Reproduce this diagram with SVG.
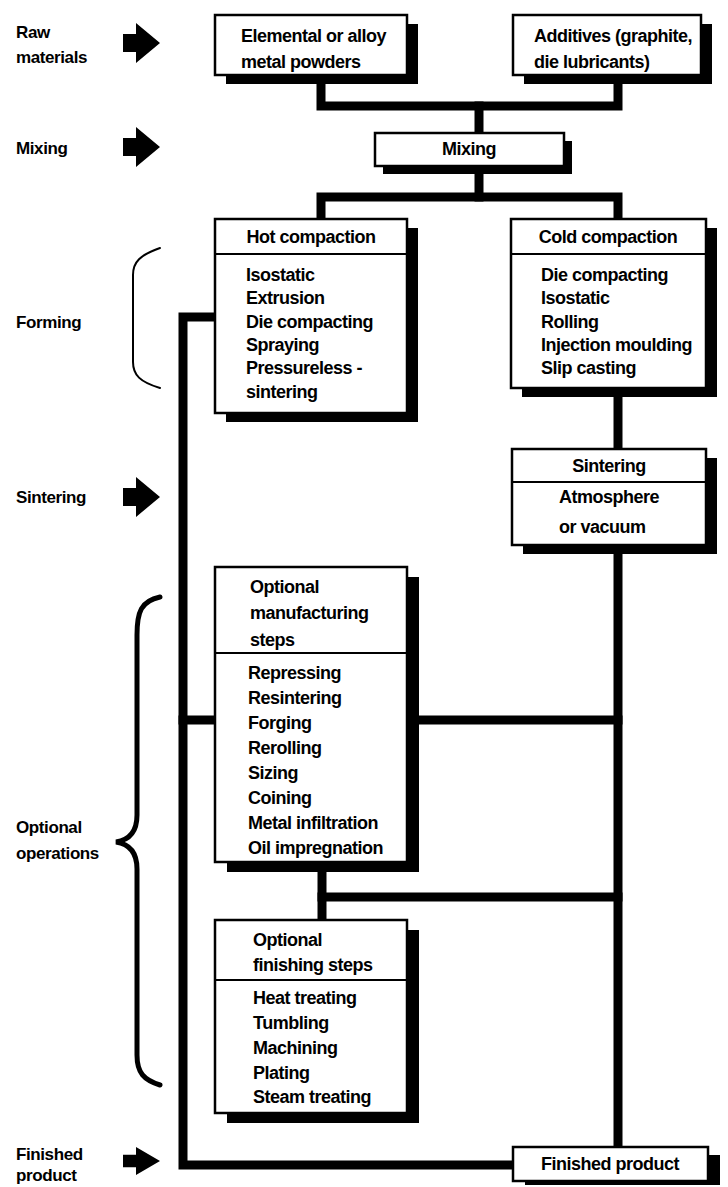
<svg xmlns="http://www.w3.org/2000/svg" width="728" height="1187" viewBox="0 0 728 1187">
<style>
text { font-family: "Liberation Sans", Arial, sans-serif; font-weight: bold; font-size: 18px; letter-spacing: -0.5px; fill: #000; }
.lbl { font-size: 17px; letter-spacing: -0.4px; }
.c { text-anchor: middle; }
.box { fill: #fff; stroke: #000; stroke-width: 2.5; }
.sh { fill: #000; }
.dv { stroke: #000; stroke-width: 2; }
.con { fill: none; stroke: #000; stroke-width: 9; stroke-linecap: square; stroke-linejoin: miter; }
.br { fill: none; stroke: #000; stroke-linecap: round; }
</style>
<defs>
<path id="arrow" d="M0,-9 H13 V-20 L37,0 L13,20 V9 H0 Z" fill="#000"/>
</defs>
<rect width="728" height="1187" fill="#fff"/>

<g id="stage-labels">
<text class="lbl" x="16" y="38">Raw</text>
<text class="lbl" x="16" y="63">materials</text>
<text class="lbl" x="16" y="154">Mixing</text>
<text class="lbl" x="16" y="328">Forming</text>
<text class="lbl" x="16" y="503">Sintering</text>
<text class="lbl" x="16" y="833">Optional</text>
<text class="lbl" x="16" y="859">operations</text>
<text class="lbl" x="16" y="1160">Finished</text>
<text class="lbl" x="16" y="1181">product</text>
<use href="#arrow" transform="translate(123,43)"/>
<use href="#arrow" transform="translate(123,147)"/>
<use href="#arrow" transform="translate(123,497)"/>
<use href="#arrow" transform="translate(123,1161) scale(1,0.7)"/>
<path class="br" stroke-width="2" d="M160,248 C140,255 133,262 133,275 L133,362 C133,375 140,382 160,388"/>
<path class="br" stroke-width="5" d="M160,597 C141,601 137,612 137,635 L137,815 C137,832 129,840 116,842 C129,844 137,852 137,869 L137,1055 C137,1073 144,1080 160,1085"/>
</g>

<g id="connectors">
<path class="con" d="M321,75 V106 H618 V75"/>
<path class="con" d="M479,106 V133"/>
<path class="con" d="M479,166 V197"/>
<path class="con" d="M321,219 V197 H618 V219"/>
<path class="con" d="M618,388 V449"/>
<path class="con" d="M618,545 V1147"/>
<path class="con" d="M215,317 H183 V1165 H513"/>
<path class="con" d="M183,720 H618"/>
<path class="con" d="M322,862 V920"/>
<path class="con" d="M322,897 H618"/>
</g>

<g id="elemental">
<rect class="sh" x="226" y="24" width="192" height="60"/>
<rect class="box" x="215" y="15" width="192" height="60"/>
<text x="241" y="42">Elemental or alloy</text>
<text x="241" y="68">metal powders</text>
</g>

<g id="additives">
<rect class="sh" x="524" y="24" width="188" height="60"/>
<rect class="box" x="513" y="15" width="188" height="60"/>
<text x="534" y="42">Additives (graphite,</text>
<text x="534" y="68">die lubricants)</text>
</g>

<g id="mixing">
<rect class="sh" x="383" y="141" width="189" height="33"/>
<rect class="box" x="375" y="133" width="189" height="33"/>
<text class="c" x="469" y="155">Mixing</text>
</g>

<g id="hot-compaction">
<rect class="sh" x="226" y="228" width="192" height="194"/>
<rect class="box" x="215" y="219" width="192" height="194"/>
<line class="dv" x1="215" y1="254" x2="407" y2="254"/>
<text class="c" x="311" y="243">Hot compaction</text>
<text x="246" y="281">Isostatic</text>
<text x="246" y="304">Extrusion</text>
<text x="246" y="328">Die compacting</text>
<text x="246" y="351">Spraying</text>
<text x="246" y="374">Pressureless -</text>
<text x="246" y="398">sintering</text>
</g>

<g id="cold-compaction">
<rect class="sh" x="522" y="228" width="195" height="169"/>
<rect class="box" x="511" y="219" width="195" height="169"/>
<line class="dv" x1="511" y1="254" x2="706" y2="254"/>
<text class="c" x="608" y="243">Cold compaction</text>
<text x="541" y="281">Die compacting</text>
<text x="541" y="304">Isostatic</text>
<text x="541" y="328">Rolling</text>
<text x="541" y="351">Injection moulding</text>
<text x="541" y="374">Slip casting</text>
</g>

<g id="sintering">
<rect class="sh" x="523" y="458" width="194" height="96"/>
<rect class="box" x="512" y="449" width="194" height="96"/>
<line class="dv" x1="512" y1="482" x2="706" y2="482"/>
<text class="c" x="609" y="472">Sintering</text>
<text x="559" y="503">Atmosphere</text>
<text x="559" y="533">or vacuum</text>
</g>

<g id="optional-manufacturing">
<rect class="sh" x="227" y="577" width="192" height="295"/>
<rect class="box" x="215" y="567" width="192" height="295"/>
<line class="dv" x1="215" y1="653" x2="407" y2="653"/>
<text x="250" y="593">Optional</text>
<text x="250" y="619">manufacturing</text>
<text x="250" y="646">steps</text>
<text x="248" y="679">Repressing</text>
<text x="248" y="704">Resintering</text>
<text x="248" y="729">Forging</text>
<text x="248" y="754">Rerolling</text>
<text x="248" y="779">Sizing</text>
<text x="248" y="804">Coining</text>
<text x="248" y="829">Metal infiltration</text>
<text x="248" y="854">Oil impregnation</text>
</g>

<g id="optional-finishing">
<rect class="sh" x="227" y="930" width="192" height="193"/>
<rect class="box" x="215" y="920" width="192" height="193"/>
<line class="dv" x1="215" y1="980" x2="407" y2="980"/>
<text x="253" y="946">Optional</text>
<text x="253" y="971">finishing steps</text>
<text x="253" y="1004">Heat treating</text>
<text x="253" y="1029">Tumbling</text>
<text x="253" y="1054">Machining</text>
<text x="253" y="1079">Plating</text>
<text x="253" y="1103">Steam treating</text>
</g>

<g id="finished-product">
<rect class="sh" x="525" y="1155" width="195" height="30"/>
<rect class="box" x="513" y="1147" width="195" height="34"/>
<text class="c" x="610" y="1170">Finished product</text>
</g>
</svg>
